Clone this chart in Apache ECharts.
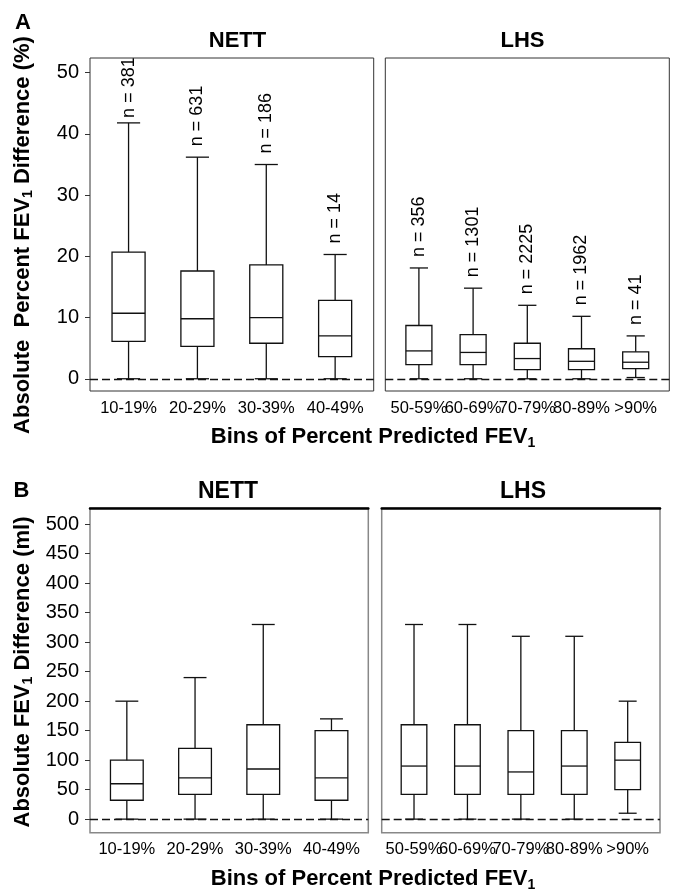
<!DOCTYPE html>
<html>
<head>
<meta charset="utf-8">
<script src="https://cdn.jsdelivr.net/npm/echarts@6/dist/echarts.min.js"></script>
<style>
  html, body { margin: 0; padding: 0; background: #fff; }
  #chart { width: 675px; height: 889px; }
</style>
</head>
<body>
<div id="chart"></div>
<script>
// bins on the x axis
const nettBins = ['10-19%', '20-29%', '30-39%', '40-49%']
const lhsBins = ['50-59%', '60-69%', '70-79%', '80-89%', '>90%']

// sample sizes shown above the boxes in panel A
const nettN = [381, 631, 186, 14]
const lhsN = [356, 1301, 2225, 1962, 41]

// box stats: [lower whisker, Q1, median, Q3, upper whisker]
// panel A, absolute percent FEV1 difference (%)
const nettPct = [
  [0, 6.1, 10.7, 20.7, 41.8],
  [0, 5.3, 9.8, 17.6, 36.2],
  [0, 5.8, 10.0, 18.6, 35.0],
  [0, 3.6, 7.0, 12.8, 20.3]
]
const lhsPct = [
  [0, 2.3, 4.55, 8.7, 18.1],
  [0, 2.3, 4.3, 7.2, 14.8],
  [0, 1.5, 3.3, 5.8, 12.0],
  [0, 1.5, 2.85, 4.9, 10.2],
  [0.2, 1.65, 2.7, 4.4, 7.0]
]
// panel B, absolute FEV1 difference (ml)
const nettMl = [
  [0, 32, 60, 100, 200],
  [0, 42, 70, 120, 240],
  [0, 42, 85, 160, 330],
  [0, 32, 70, 150, 170]
]
const lhsMl = [
  [0, 42, 90, 160, 330],
  [0, 42, 90, 160, 330],
  [0, 42, 80, 150, 310],
  [0, 42, 90, 150, 310],
  [10, 50, 100, 130, 200]
]

// y tick labels
const pctTicks = [0, 10, 20, 30, 40, 50]
const mlTicks = [0, 50, 100, 150, 200, 250, 300, 350, 400, 450, 500]

const FONT = '"Liberation Sans", Arial, Helvetica, sans-serif'
const BOX_W = 0.48
const INK = '#111'

const toData = stats => stats.map((s, i) => [i + 1, ...s])

const makeRender = (bins, nArr) => (params, api) => {
  const i = params.dataIndex
  const cs = params.coordSys
  const x = api.value(0)
  const lo = api.coord([x, api.value(1)])
  const q1 = api.coord([x, api.value(2)])
  const md = api.coord([x, api.value(3)])
  const q3 = api.coord([x, api.value(4)])
  const hi = api.coord([x, api.value(5)])
  const cx = lo[0]
  const bw = api.size([BOX_W, 0])[0]
  const cw = bw * 0.7
  const st = { stroke: INK, lineWidth: 1.3, fill: null }
  const line = (x1, y1, x2, y2) => ({ type: 'line', shape: { x1, y1, x2, y2 }, style: st })

  const children = [
    { type: 'rect', shape: { x: cx - bw / 2, y: q3[1], width: bw, height: q1[1] - q3[1] }, style: { stroke: INK, lineWidth: 1.3, fill: '#fff' } },
    line(cx - bw / 2, md[1], cx + bw / 2, md[1]),
    line(cx, q3[1], cx, hi[1]),
    line(cx - cw / 2, hi[1], cx + cw / 2, hi[1]),
    line(cx, q1[1], cx, lo[1]),
    line(cx - cw / 2, lo[1], cx + cw / 2, lo[1]),
    {
      type: 'text', x: cx, y: cs.y + cs.height + 17,
      style: { text: bins[i], fill: '#000', fontSize: 16.5, fontFamily: FONT, textAlign: 'center', textVerticalAlign: 'middle' }
    }
  ]

  if (nArr) {
    const txt = 'n = ' + nArr[i]
    const len = txt.length * 18 * 0.46
    // keep the label inside the frame, but never on the whisker cap
    const y = Math.min(hi[1] - 5, Math.max(hi[1] - 11, cs.y + 2 + len))
    children.push({
      type: 'text', x: cx, y: y, rotation: Math.PI / 2,
      style: { text: txt, fill: '#000', fontSize: 18, fontFamily: FONT, textAlign: 'left', textVerticalAlign: 'middle' }
    })
  }
  return { type: 'group', children }
}

const zeroLine = {
  silent: true,
  symbol: ['none', 'none'],
  label: { show: false },
  lineStyle: { type: [8, 4], color: '#111', width: 1.4 },
  data: [{ yAxis: 0 }]
}

const boxSeries = (idx, bins, stats, nArr) => ({
  type: 'custom',
  xAxisIndex: idx,
  yAxisIndex: idx,
  data: toData(stats),
  encode: { x: 0, y: [1, 2, 3, 4, 5] },
  renderItem: makeRender(bins, nArr),
  markLine: zeroLine,
  z: 3
})

const xAx = (idx, min, max, top) => ({
  type: 'value',
  gridIndex: idx,
  min, max,
  position: top ? 'top' : 'bottom',
  axisLine: top ? { show: true, onZero: false, lineStyle: { color: '#000', width: 2.5 } } : { show: false },
  axisTick: { show: false },
  axisLabel: { show: false },
  splitLine: { show: false }
})

const yAx = (idx, min, max, ticks, showLabels) => ({
  type: 'value',
  gridIndex: idx,
  min, max,
  axisLine: { show: false },
  axisTick: { show: showLabels, length: 5, customValues: ticks, lineStyle: { color: '#333' } },
  axisLabel: { show: showLabels, customValues: ticks, fontSize: 20, fontFamily: FONT, color: '#000', margin: 11 },
  splitLine: { show: false }
})

const gridA = { borderColor: '#333', borderWidth: 1 }
const gridB = { borderColor: '#888', borderWidth: 1.5 }

const titleText = (text, x, y, size) => ({
  type: 'text', x, y,
  style: { text, fill: '#000', font: 'bold ' + size + 'px ' + FONT, textAlign: 'center', textVerticalAlign: 'middle' }
})

const richTitle = (parts, x, y, rot) => ({
  type: 'text', x, y, rotation: rot,
  style: {
    text: '{b|' + parts[0] + '}{s|1}{b|' + parts[1] + '}',
    textAlign: 'center',
    textVerticalAlign: 'middle',
    rich: {
      b: { fontSize: 22, fontWeight: 'bold', fontFamily: FONT, fill: '#000', lineHeight: 22, verticalAlign: 'top' },
      s: { fontSize: 14, fontWeight: 'bold', fontFamily: FONT, fill: '#000', lineHeight: 14, padding: [10, 0, 0, 0], verticalAlign: 'top' }
    }
  }
})

const chart = echarts.init(document.getElementById('chart'))

chart.setOption({
  backgroundColor: '#fff',
  animation: false,
  grid: [
    { left: 90, top: 58, right: 301.3, bottom: 498, show: true, ...gridA },
    { left: 385.3, top: 58, right: 5.7, bottom: 498, show: true, ...gridA },
    { left: 90, top: 508.3, right: 306.7, bottom: 56.3, show: true, ...gridB },
    { left: 381.7, top: 508.3, right: 15, bottom: 56.3, show: true, ...gridB }
  ],
  xAxis: [
    xAx(0, 0.44, 4.56, false),
    xAx(1, 0.38, 5.62, false),
    xAx(2, 0.46, 4.54, true),
    xAx(3, 0.395, 5.605, true)
  ],
  yAxis: [
    yAx(0, -2, 52.4, pctTicks, true),
    yAx(1, -2, 52.4, pctTicks, false),
    yAx(2, -23, 527, mlTicks, true),
    yAx(3, -23, 527, mlTicks, false)
  ],
  series: [
    boxSeries(0, nettBins, nettPct, nettN),
    boxSeries(1, lhsBins, lhsPct, lhsN),
    boxSeries(2, nettBins, nettMl, null),
    boxSeries(3, lhsBins, lhsMl, null)
  ],
  graphic: [
    titleText('A', 23, 23, 22),
    titleText('B', 21.5, 491, 22),
    titleText('NETT', 237.5, 41, 22),
    titleText('LHS', 522.5, 41, 22),
    titleText('NETT', 228, 492, 23),
    titleText('LHS', 523, 492, 23),
    richTitle(['Absolute  Percent FEV', ' Difference (%)'], 22.5, 235, Math.PI / 2),
    richTitle(['Absolute FEV', ' Difference (ml)'], 22.5, 672, Math.PI / 2),
    richTitle(['Bins of Percent Predicted FEV', ''], 373, 437, 0),
    richTitle(['Bins of Percent Predicted FEV', ''], 373, 879, 0)
  ]
})
</script>
</body>
</html>
